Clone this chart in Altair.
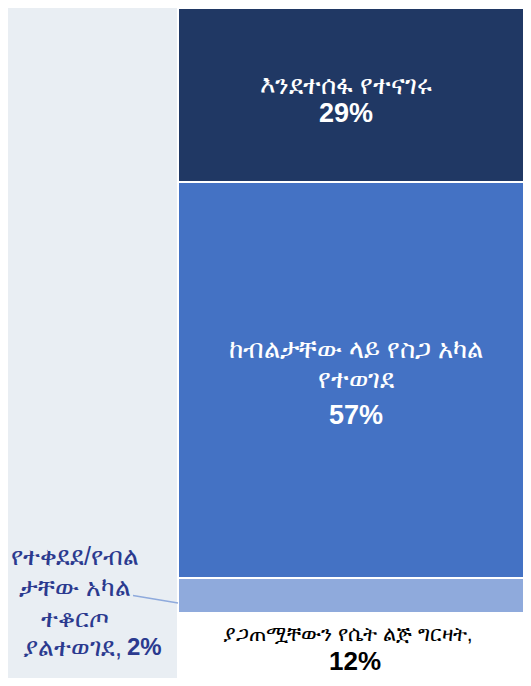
import altair as alt
import numpy as np
import pandas as pd

# ---- data ----
names = [
    "ያጋጠሟቸውን የሴት ልጅ ግርዛት,",
    "የተቀደደ/የብል\nታቸው አካል\nተቆርጦ\nያልተወገደ,",
    "ከብልታቸው ላይ የስጋ አካል\nየተወገደ",
    "እንደተሰፋ የተናገሩ",
]
values = [12, 2, 57, 29]
colors = ["#FFFFFF", "#8FAADC", "#4472C4", "#203864"]

cum = np.cumsum(values)
df = pd.DataFrame({
    "name": names,
    "value": values,
    "pct": [f"{v}%" for v in values],
    "grp": ["bar"] * len(values),
    "y0": np.concatenate([[0], cum[:-1]]),
    "y1": cum,
})
df["mid"] = (df["y0"] + df["y1"]) / 2

bounds = [0] + [int(c) for c in cum]
yscale = alt.Scale(domain=bounds, range=[690, 605, 570, 174, 0], nice=False, zero=False)
xscale = alt.Scale(domain=["bar"], range=[170, 520], paddingInner=0, paddingOuter=0)

FONT = "Liberation Sans"

base = alt.Chart(df)

bars = base.mark_bar(stroke="white", strokeWidth=2, clip=True).encode(
    x=alt.X("grp:N", scale=xscale, axis=None),
    y=alt.Y("y0:Q", scale=yscale, axis=None),
    y2="y1:Q",
    color=alt.Color("name:N", scale=alt.Scale(domain=names, range=colors), legend=None),
)

layers = [bars]

def label(idx, text_field, dx, dy, color, size, bold, align="center", line_height=30):
    d = df.iloc[[idx]].copy()
    d["txt"] = text_field
    return alt.Chart(d).mark_text(
        dx=dx, dy=dy, color=color, fontSize=size, font=FONT,
        fontWeight="bold" if bold else "normal", align=align,
        baseline="middle", lineBreak="\n", lineHeight=line_height,
    ).encode(
        x=alt.X("grp:N", scale=xscale, axis=None),
        y=alt.Y("mid:Q", scale=yscale, axis=None),
        text="txt:N",
    )

# top segment
layers.append(label(3, names[3], -7, -9, "white", 26, False))
layers.append(label(3, df["pct"][3], -7, 19, "white", 27, True))
# middle segment
layers.append(label(2, names[2], 3, -30, "white", 26, False, line_height=30))
layers.append(label(2, df["pct"][2], 3, 36, "white", 27, True))
# bottom (white) segment
layers.append(label(0, names[0], -5, -20.5, "black", 21, False))
layers.append(label(0, df["pct"][0], 2, 6.5, "black", 26, True))
# small segment, labelled on the left
small_lines = names[1].split("\n")
layers.append(label(1, "\n".join(small_lines[:-1]), -278, -38.5, "#2B3A8F", 25, False, line_height=31))
layers.append(label(1, small_lines[-1], -231, 52.5, "#2B3A8F", 25, False, align="right"))
layers.append(label(1, df["pct"][1], -226, 52.5, "#2B3A8F", 24, True, align="left"))

leader = alt.Chart(df.iloc[[1]]).mark_rule(color="#8FAADC", strokeWidth=1.5).encode(
    x=alt.value(125), x2=alt.value(170),
    y=alt.Y("mid:Q", scale=yscale, axis=None), y2=alt.value(595),
)
layers.append(leader)

chart = alt.layer(*layers).properties(
    width=515, height=670, padding=0, background="#E9EEF3",
    autosize=alt.AutoSizeParams(type="none"),
).configure_view(stroke=None)

chart.save("out.html", embed_options={"renderer": "svg", "actions": False})
